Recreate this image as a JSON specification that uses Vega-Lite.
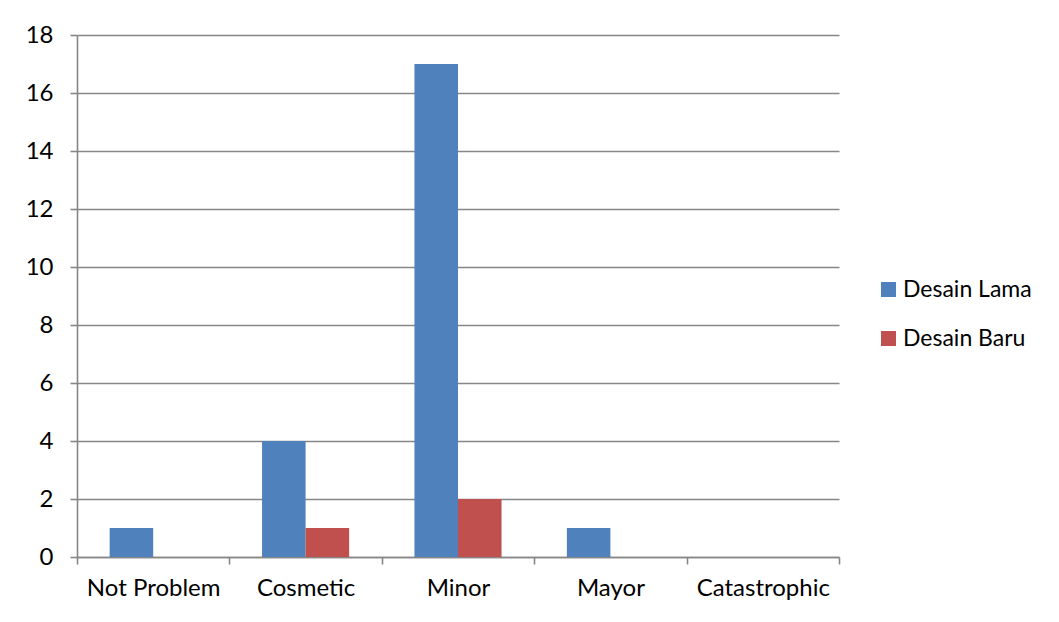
{
  "$schema": "https://vega.github.io/schema/vega-lite/v6.json",
  "width": 762,
  "height": 522,
  "autosize": {"type": "none"},
  "padding": {"left": 77, "top": 35, "right": 220, "bottom": 65},
  "background": "white",
  "data": {
    "values": [
      {"category": "Not Problem", "series": "Desain Lama", "value": 1},
      {"category": "Not Problem", "series": "Desain Baru", "value": 0},
      {"category": "Cosmetic", "series": "Desain Lama", "value": 4},
      {"category": "Cosmetic", "series": "Desain Baru", "value": 1},
      {"category": "Minor", "series": "Desain Lama", "value": 17},
      {"category": "Minor", "series": "Desain Baru", "value": 2},
      {"category": "Mayor", "series": "Desain Lama", "value": 1},
      {"category": "Mayor", "series": "Desain Baru", "value": 0},
      {"category": "Catastrophic", "series": "Desain Lama", "value": 0},
      {"category": "Catastrophic", "series": "Desain Baru", "value": 0}
    ]
  },
  "mark": {"type": "bar"},
  "encoding": {
    "x": {
      "field": "category",
      "type": "nominal",
      "sort": ["Not Problem", "Cosmetic", "Minor", "Mayor", "Catastrophic"],
      "scale": {"paddingInner": 0, "paddingOuter": 0},
      "axis": {
        "title": null,
        "labelAngle": 0,
        "tickBand": "extent",
        "tickSize": 7,
        "tickColor": "#868686",
        "tickWidth": 1.6,
        "domainColor": "#868686",
        "domainWidth": 1.6,
        "labelFont": "Lato",
        "labelFontSize": 24,
        "labelColor": "#000000",
        "labelPadding": 12,
        "grid": false
      }
    },
    "xOffset": {
      "field": "series",
      "type": "nominal",
      "sort": ["Desain Lama", "Desain Baru"],
      "scale": {"paddingInner": 0, "paddingOuter": 0.75}
    },
    "y": {
      "field": "value",
      "type": "quantitative",
      "scale": {"domain": [0, 18], "nice": false},
      "axis": {
        "title": null,
        "values": [0, 2, 4, 6, 8, 10, 12, 14, 16, 18],
        "grid": true,
        "gridColor": "#868686",
        "gridWidth": 1.6,
        "tickSize": 7,
        "tickColor": "#868686",
        "tickWidth": 1.6,
        "domainColor": "#868686",
        "domainWidth": 1.6,
        "labelFont": "Lato",
        "labelFontSize": 24,
        "labelColor": "#000000",
        "labelPadding": 17
      }
    },
    "color": {
      "field": "series",
      "type": "nominal",
      "sort": ["Desain Lama", "Desain Baru"],
      "scale": {"domain": ["Desain Lama", "Desain Baru"], "range": ["#4F81BD", "#C0504D"]},
      "legend": {
        "title": null,
        "orient": "none",
        "legendX": 800,
        "legendY": 243,
        "symbolType": "square",
        "symbolSize": 225,
        "symbolStrokeWidth": 0,
        "symbolOpacity": 1,
        "labelFont": "Lato",
        "labelFontSize": 23,
        "labelColor": "#000000",
        "labelOffset": 3,
        "rowPadding": 25,
        "padding": 0
      }
    }
  },
  "config": {"view": {"stroke": null}}
}
